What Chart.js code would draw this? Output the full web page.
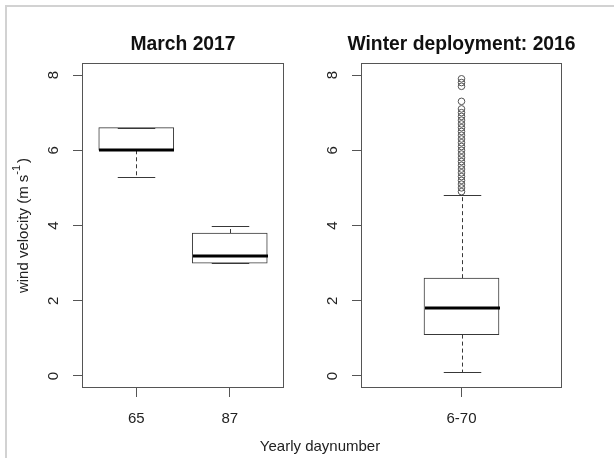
<!DOCTYPE html>
<html>
<head>
<meta charset="utf-8">
<title>Wind velocity by yearly daynumber</title>
<script src="https://cdn.jsdelivr.net/npm/chart.js@4/dist/chart.umd.min.js"></script>
<style>
  html, body { margin: 0; padding: 0; background: #fff; }
  #wrap { position: relative; width: 614px; height: 458px; overflow: hidden; background: #fff; }
  #edge { position: absolute; left: 5px; top: 5px; right: -10px; bottom: -10px;
          border-top: 2px solid #d2d2d2; border-left: 2px solid #d2d2d2; }
  canvas { position: absolute; left: 0; top: 0; }
</style>
</head>
<body>
<div id="wrap">
  <div id="edge"></div>
  <canvas id="march" width="614" height="458"></canvas>
  <canvas id="winter" width="614" height="458"></canvas>
</div>
<script>
// Shared axis ticks
const yTickValues = [0, 2, 4, 6, 8];

// March 2017: box statistics per daynumber
const marchDays = ['65', '87'];
const marchWhiskerLow = [5.3, 3.0];
const marchQ1 = [6.0, 3.0];
const marchMedian = [6.0, 3.2];
const marchQ3 = [6.6, 3.8];
const marchWhiskerHigh = [6.6, 4.0];
const marchOutliers = [];

// Winter deployment 2016: days 6-70 pooled
const winterDays = ['6-70'];
const winterWhiskerLow = [0.1];
const winterQ1 = [1.1];
const winterMedian = [1.8];
const winterQ3 = [2.6];
const winterWhiskerHigh = [4.8];
const winterOutliers = [4.9, 5.0, 5.1, 5.2, 5.3, 5.4, 5.5, 5.6, 5.7, 5.8, 5.9, 6.0,
                        6.1, 6.2, 6.3, 6.4, 6.5, 6.6, 6.7, 6.8, 6.9, 7.0, 7.1, 7.3, 7.7, 7.8, 7.9];

const FONT = "'Liberation Sans', Arial, Helvetica, sans-serif";
const INK = '#383838';
const AXIS = '#555';
const TEXT = '#222';
const BOX_PX = 75;

function makePanel(id, p) {
  const marks = {
    id: 'boxMarks_' + id,
    afterDatasetsDraw(chart) {
      const { ctx, scales: { x, y } } = chart;
      ctx.save();
      p.days.forEach((d, i) => {
        const cx = Math.round(x.getPixelForValue(i + 1)) + 0.5;
        const half = BOX_PX / 2;
        const cap = BOX_PX / 4;
        const yQ1 = y.getPixelForValue(p.q1[i]);
        const yQ3 = y.getPixelForValue(p.q3[i]);
        const yLo = Math.round(y.getPixelForValue(p.lo[i])) + 0.5;
        const yHi = Math.round(y.getPixelForValue(p.hi[i])) + 0.5;
        // dashed whiskers
        ctx.strokeStyle = INK;
        ctx.lineWidth = 1;
        ctx.setLineDash([4, 3]);
        ctx.beginPath();
        if (yLo > yQ1) { ctx.moveTo(cx, yQ1); ctx.lineTo(cx, yLo); }
        if (yHi < yQ3) { ctx.moveTo(cx, yQ3); ctx.lineTo(cx, yHi); }
        ctx.stroke();
        // staples
        ctx.setLineDash([]);
        ctx.beginPath();
        ctx.moveTo(cx - cap, yLo); ctx.lineTo(cx + cap, yLo);
        ctx.moveTo(cx - cap, yHi); ctx.lineTo(cx + cap, yHi);
        ctx.stroke();
        // median
        const yMed = Math.round(y.getPixelForValue(p.med[i]));
        ctx.strokeStyle = '#000';
        ctx.lineWidth = 3;
        ctx.beginPath();
        ctx.moveTo(cx - half, yMed); ctx.lineTo(cx + half, yMed);
        ctx.stroke();
      });
      ctx.restore();
    },
    afterDraw(chart) {
      const { ctx, chartArea: a, scales: { y } } = chart;
      ctx.save();
      // plot frame
      ctx.strokeStyle = AXIS;
      ctx.lineWidth = 1;
      ctx.strokeRect(a.left + 0.5, a.top + 0.5, a.right - a.left - 1, a.bottom - a.top - 1);
      // panel title, centred over the plot region
      ctx.fillStyle = '#111';
      ctx.font = `bold 19.3px ${FONT}`;
      ctx.textAlign = 'center';
      ctx.textBaseline = 'middle';
      ctx.fillText(p.title, (a.left + a.right) / 2, 45);
      // y tick labels, parallel to the axis
      ctx.fillStyle = TEXT;
      ctx.font = `15px ${FONT}`;
      yTickValues.forEach(v => {
        ctx.save();
        ctx.translate(a.left - 28, y.getPixelForValue(v));
        ctx.rotate(-Math.PI / 2);
        ctx.fillText(String(v), 0, 0);
        ctx.restore();
      });
      if (p.yTitle) {
        ctx.save();
        ctx.translate(24, (a.top + a.bottom) / 2);
        ctx.rotate(-Math.PI / 2);
        const main = 'wind velocity (m s', sup = '-1', close = ')';
        ctx.font = `15px ${FONT}`;
        const w1 = ctx.measureText(main).width;
        const w3 = ctx.measureText(close).width;
        ctx.font = `11px ${FONT}`;
        const w2 = ctx.measureText(sup).width;
        let sx = -(w1 + w2 + w3 + 2) / 2;
        ctx.textAlign = 'left';
        ctx.textBaseline = 'middle';
        ctx.font = `15px ${FONT}`;
        ctx.fillText(main, sx, 0);
        ctx.font = `11px ${FONT}`;
        ctx.fillText(sup, sx + w1, -7);
        ctx.font = `15px ${FONT}`;
        ctx.fillText(close, sx + w1 + w2 + 2, 0);
        ctx.restore();
      }
      if (p.xTitle) {
        ctx.font = `15px ${FONT}`;
        ctx.textAlign = 'center';
        ctx.textBaseline = 'middle';
        ctx.fillText(p.xTitle, 320, 447);
      }
      ctx.restore();
    }
  };

  return new Chart(document.getElementById(id), {
    type: 'bar',
    data: {
      datasets: [
        {
          type: 'bar',
          data: p.days.map((d, i) => ({ x: i + 1, y: [p.q1[i], p.q3[i]] })),
          backgroundColor: '#ffffff',
          borderColor: INK,
          borderWidth: 1,
          borderSkipped: false,
          barThickness: BOX_PX
        },
        {
          type: 'scatter',
          data: p.outliers.map(v => ({ x: 1, y: v })),
          pointStyle: 'circle',
          pointRadius: 3.3,
          pointBorderWidth: 1,
          pointBorderColor: '#555',
          pointBackgroundColor: 'rgba(0,0,0,0)',
          showLine: false
        }
      ]
    },
    options: {
      responsive: false,
      devicePixelRatio: 1,
      animation: false,
      events: [],
      layout: { padding: { left: p.padLeft, right: p.padRight, top: 63, bottom: 0 } },
      plugins: {
        legend: { display: false },
        tooltip: { enabled: false },
        title: { display: false }
      },
      scales: {
        x: {
          type: 'linear',
          min: p.xMin,
          max: p.xMax,
          offset: false,
          afterBuildTicks: s => { s.ticks = p.days.map((d, i) => ({ value: i + 1 })); },
          afterFit: s => { s.height = 70; },
          ticks: {
            callback: v => p.days[v - 1] ?? '',
            autoSkip: false,
            maxRotation: 0,
            minRotation: 0,
            padding: 13,
            color: TEXT,
            font: { family: FONT, size: 15 }
          },
          grid: { offset: false, drawOnChartArea: false, drawTicks: true, tickLength: 9, tickColor: AXIS, color: AXIS },
          border: { display: false }
        },
        y: {
          type: 'linear',
          min: -0.32,
          max: 8.32,
          afterBuildTicks: s => { s.ticks = yTickValues.map(v => ({ value: v })); },
          afterFit: s => { s.width = 82; },
          ticks: { display: false },
          grid: { drawOnChartArea: false, drawTicks: true, tickLength: 9, tickColor: AXIS, color: AXIS },
          border: { display: false }
        }
      }
    },
    plugins: [marks]
  });
}

makePanel('march', {
  title: 'March 2017',
  days: marchDays, lo: marchWhiskerLow, q1: marchQ1, med: marchMedian,
  q3: marchQ3, hi: marchWhiskerHigh, outliers: marchOutliers,
  xMin: 0.42, xMax: 2.58, padLeft: 0, padRight: 330,
  yTitle: true
});

makePanel('winter', {
  title: 'Winter deployment: 2016',
  days: winterDays, lo: winterWhiskerLow, q1: winterQ1, med: winterMedian,
  q3: winterQ3, hi: winterWhiskerHigh, outliers: winterOutliers,
  xMin: 0.5, xMax: 1.5, padLeft: 279, padRight: 52,
  xTitle: 'Yearly daynumber'
});
</script>
</body>
</html>
